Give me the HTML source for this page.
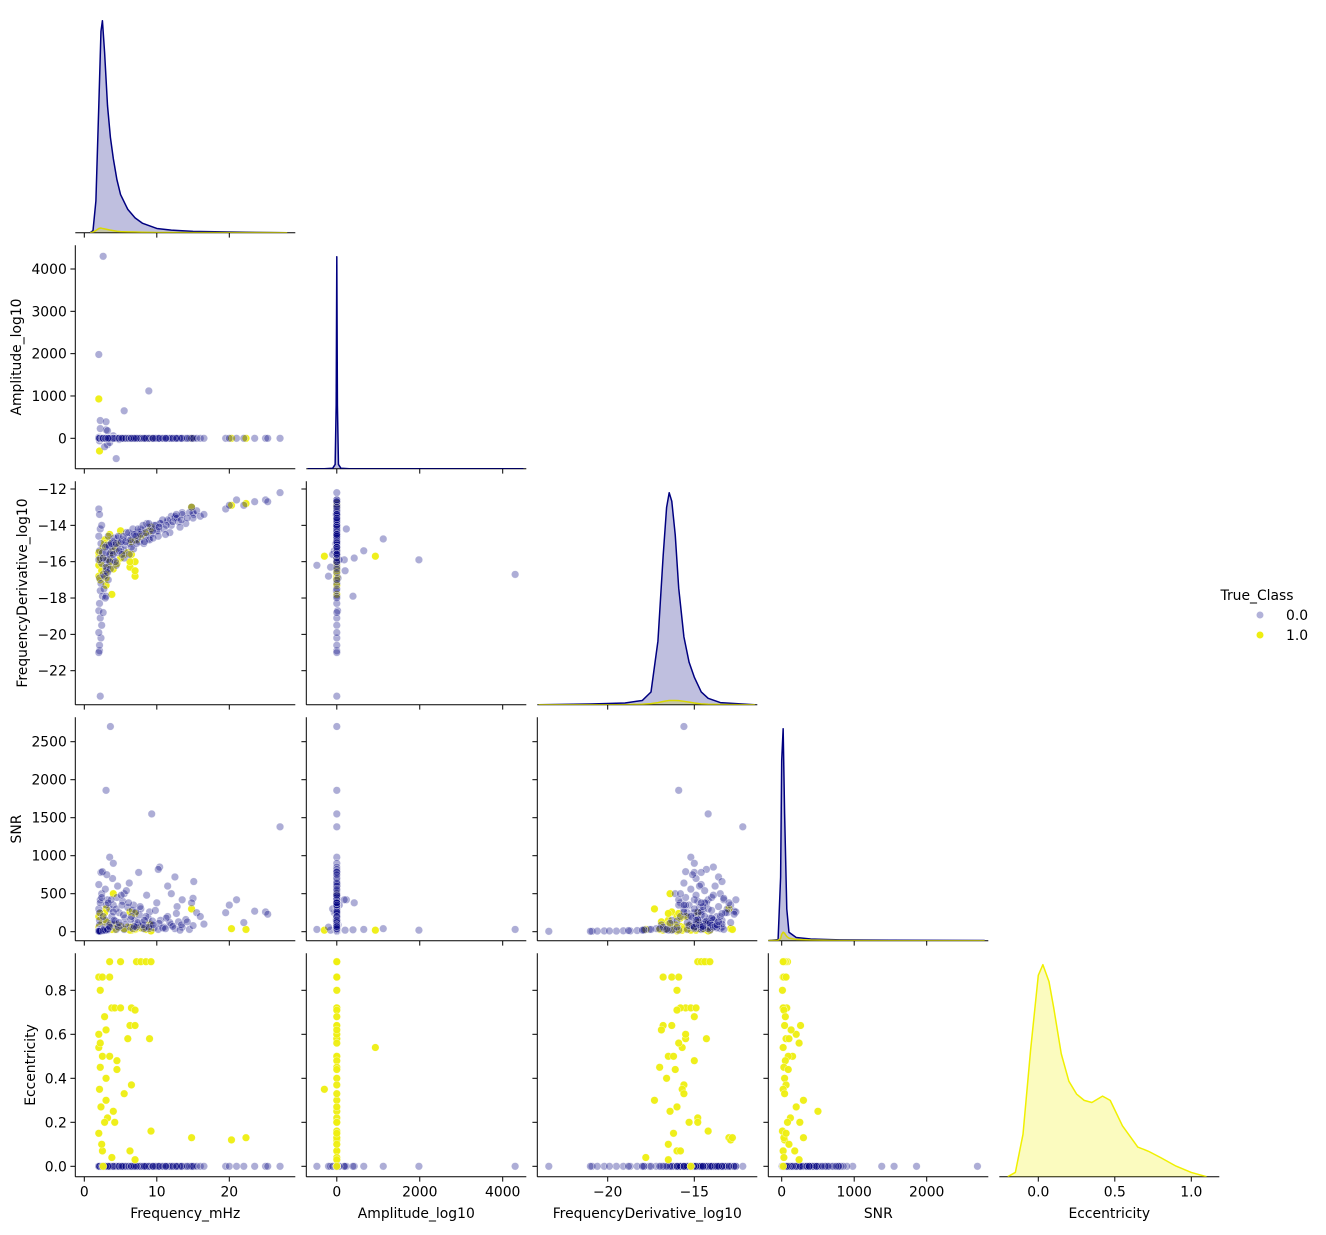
<!DOCTYPE html>
<html><head><meta charset="utf-8"><style>
html,body{margin:0;padding:0;background:#fff;}
svg text{font-family:"DejaVu Sans","Liberation Sans",sans-serif;font-size:13.9px;fill:#000;}
</style></head><body>
<svg id="chart" width="1326" height="1230" viewBox="0 0 1326 1230" xmlns="http://www.w3.org/2000/svg">
<g id="legend">
<text x="1257" y="600" text-anchor="middle">True_Class</text>
<circle cx="1260" cy="615" r="3.8" fill="#000080" fill-opacity="0.3" stroke="#fff" stroke-width="0.6"/>
<text x="1286" y="620">0.0</text>
<circle cx="1260" cy="635" r="3.8" fill="#eeee10" stroke="#fff" stroke-width="0.6"/>
<text x="1286" y="640">1.0</text>
</g>
</svg>
<script>
// ---------- class 0.0 records ----------
const freq0 = [2.0,2.1,2.2,2.0,2.3,2.1,2.2,2.4,2.0,2.1,2.3,2.2,2.5,2.1,2.0,2.2,2.4,2.6,2.3,2.1,2.0,2.2,2.0,2.1,
 3.6,3.0,9.3,27.0,3.5,4.0,10.4,10.2,7.5,2.5,12.5,15.1,11.5,12.0,13.5,15.0,19.5,20.0,21.0,22.0,23.5,25.0,25.3,4.4,5.5,3.0,8.9,3.2,3.0,
 2.8,3.0,3.2,3.5,3.8,4.0,4.2,4.5,4.8,5.0,5.3,5.6,6.0,6.3,6.6,7.0,7.3,7.6,8.0,8.4,8.8,9.2,9.6,10.0,10.5,11.0,11.5,12.0,12.5,13.0,13.5,14.0,14.5,15.0,15.5,16.0,
 3.3,3.6,4.3,2.7,2.9,2.6,5.5,6.8,8.2,9.0,10.2,11.8,13.2,7.8,4.6,3.9,5.8,12.8,6.2,2.4,8.6,16.5,14.8,3.1,
 2.6,3.0,3.4,3.7,4.1,4.4,4.7,5.1,5.4,5.7,6.1,6.4,6.7,7.1,7.4,7.7,8.1,8.5,8.9,9.4,9.8,10.3,10.8,11.3,12.2,12.7,13.4,14.2,3.2,3.5,4.0,4.8,5.2,6.5,7.2,8.3,9.5,11.2,2.9,3.3,6.9];
const amp0 = [0,-20,230,10,0,-60,420,0,1980,30,0,-10,0,0,20,0,0,4300,0,0,0,0,0,0,
 0,0,0,0,0,0,0,0,0,0,0,0,0,0,0,0,0,0,0,0,0,0,0,-480,650,390,1120,-150,200,
 -200,0,180,-100,0,60,0,0,-30,0,0,0,0,0,0,0,0,0,0,0,0,0,0,0,0,0,0,0,0,0,0,0,0,0,0,0,
 0,0,0,0,0,0,0,0,0,0,0,0,0,0,0,0,0,0,0,0,0,0,0,0,
 0,0,0,0,0,0,0,0,0,0,0,0,0,0,0,0,0,0,0,0,0,0,0,0,0,0,0,0,0,0,0,0,0,0,0,0,0,0,0,0,0];
const fdot0 = [-13.1,-13.4,-14.2,-14.6,-15.0,-15.4,-15.8,-16.1,-15.9,-16.9,-17.2,-17.6,-17.9,-18.3,-18.7,-19.1,-19.5,-16.7,-20.2,-20.9,-21.0,-23.4,-19.9,-20.6,
 -15.6,-15.9,-14.2,-12.2,-15.2,-15.0,-13.9,-14.3,-14.6,-15.5,-13.6,-13.4,-13.8,-13.5,-13.3,-13.3,-13.1,-12.9,-12.6,-12.9,-12.7,-12.6,-12.7,-16.2,-15.4,-17.9,-14.75,-16.3,-16.5,
 -16.8,-16.3,-15.9,-15.6,-15.4,-15.9,-15.2,-15.5,-15.0,-15.3,-14.8,-15.1,-14.7,-15.0,-14.5,-14.8,-14.4,-14.9,-14.3,-14.6,-14.1,-14.5,-14.0,-14.3,-13.9,-14.2,-13.7,-14.0,-13.5,-13.8,-13.4,-13.9,-13.3,-13.6,-13.2,-13.5,
 -17.0,-16.4,-16.0,-17.5,-18.0,-18.8,-15.8,-15.3,-15.0,-14.8,-14.6,-14.4,-14.1,-14.2,-14.7,-14.9,-14.4,-13.6,-15.6,-14.0,-13.9,-13.4,-13.0,-15.1,
 -15.8,-15.5,-15.1,-15.0,-14.7,-15.0,-14.6,-14.9,-14.6,-14.9,-14.4,-14.8,-14.2,-14.6,-14.2,-14.5,-14.0,-14.4,-13.9,-14.3,-14.0,-14.1,-13.7,-14.0,-13.8,-13.4,-13.7,-13.6,-16.6,-16.0,-15.6,-15.4,-15.6,-15.2,-15.0,-14.9,-14.7,-14.5,-15.2,-14.6,-14.5];
const snr0 = [300,150,420,620,780,250,380,500,20,90,40,30,20,15,10,12,8,30,10,6,5,5,10,8,
 2700,1860,1550,1380,980,900,850,820,780,790,720,660,600,500,420,440,250,350,420,120,270,260,230,30,30,25,40,20,20,
 60,150,420,300,200,350,100,450,250,80,400,180,320,60,280,150,90,220,120,60,180,100,50,380,150,60,200,90,40,130,60,160,30,80,250,200,
 40,110,140,30,20,15,500,350,40,260,30,120,20,300,600,700,540,330,640,450,480,100,380,750,
 200,350,80,420,150,300,60,480,220,100,380,160,40,260,120,330,90,200,60,140,280,110,50,180,70,240,90,130,30,60,260,120,350,200,60,150,90,40,560,380,70];
const ecc0 = [0,0,0,0,0,0,0,0,0,0,0,0,0,0,0,0,0,0,0,0,0,0,0,0,
 0,0,0,0,0,0,0,0,0,0,0,0,0,0,0,0,0,0,0,0,0,0,0,0,0,0,0,0,0,
 0,0,0,0,0,0,0,0,0,0,0,0,0,0,0,0,0,0,0,0,0,0,0,0,0,0,0,0,0,0,0,0,0,0,0,0,
 0,0,0,0,0,0,0,0,0,0,0,0,0,0,0,0,0,0,0,0,0,0,0,0,
 0,0,0,0,0,0,0,0,0,0,0,0,0,0,0,0,0,0,0,0,0,0,0,0,0,0,0,0,0,0,0,0,0,0,0,0,0,0,0,0,0];
// ---------- class 1.0 records ----------
const freq1 = [3.5,5.0,7.2,7.8,8.5,9.2,2.0,2.5,3.5,2.2, 3.8,4.2,5.0,6.5,7.0,6.3,7.0,6.0,9.0,2.0, 2.5,3.5,4.5,2.2,3.0,6.5,2.1,4.0,3.0,2.3, 3.2,2.8,4.2,9.2,14.8,20.3,22.3,6.3,2.5,2.0, 3.8,2.4,7.0,2.6,2.0,2.2,3.0,2.8,4.5,5.5];
const amp1 = [0,0,0,0,0,0,0,0,0,0, 0,0,0,0,0,0,0,0,0,930, 0,0,0,0,0,0,-300,0,0,0, 0,0,0,0,0,0,0,0,0,0, 0,0,0,0,0,0,0,0,0,0];
const fdot1 = [-14.5,-14.3,-14.8,-14.6,-14.4,-14.1,-16.8,-16.3,-15.9,-16.0, -15.5,-15.2,-15.8,-14.9,-16.0,-16.3,-16.8,-15.5,-14.3,-15.7, -16.5,-16.2,-15.0,-17.0,-16.6,-15.6,-15.7,-16.4,-17.3,-16.0, -14.8,-14.8,-15.3,-14.2,-13.0,-12.9,-12.8,-16.0,-15.8,-16.2, -17.8,-16.5,-16.5,-15.2,-15.5,-15.9,-16.9,-15.0,-16.1,-15.6];
const snr1 = [80,60,40,50,30,20,20,30,60,10, 40,30,70,20,30,260,40,60,100,20, 150,90,50,30,40,60,20,500,300,200, 120,250,80,10,300,40,30,20,180,60, 30,100,240,20,200,240,130,50,90,40];
const ecc1 = [0.93,0.93,0.93,0.93,0.93,0.93,0.86,0.86,0.86,0.80, 0.72,0.72,0.72,0.72,0.71,0.64,0.64,0.58,0.58,0.54, 0.50,0.50,0.48,0.45,0.40,0.37,0.35,0.25,0.30,0.27, 0.22,0.20,0.20,0.16,0.13,0.12,0.13,0.07,0.07,0.15, 0.04,0.10,0.03,0.0,0.60,0.56,0.62,0.68,0.44,0.33];
// ---------- diagonal KDE curves (relative density) ----------
const kdeFreqX = [0.8,1.2,1.6,2.0,2.3,2.5,2.8,3.2,3.6,4.0,4.5,5.0,6.0,7.0,8.0,10,12,15,20,25,28];
const kdeFreq0 = [0,0.01,0.15,0.6,0.95,1.0,0.85,0.6,0.45,0.35,0.25,0.18,0.11,0.07,0.045,0.02,0.012,0.006,0.003,0.001,0];
const kdeFreq1 = [0,0.003,0.01,0.02,0.022,0.02,0.018,0.015,0.012,0.01,0.007,0.005,0.004,0.003,0.002,0.001,0.001,0.0005,0.0005,0.0003,0];
const kdeAmpX = [-700,-300,-100,-40,-15,0,15,40,100,300,4500];
const kdeAmp0 = [0,0,0.002,0.02,0.3,1.0,0.3,0.02,0.002,0,0];
const kdeFdotX = [-24,-21,-19,-18,-17.5,-17.1,-16.8,-16.6,-16.45,-16.3,-16.1,-15.9,-15.6,-15.3,-15.0,-14.6,-14.2,-13.5,-12,-11.5];
const kdeFdot0 = [0,0.003,0.008,0.02,0.06,0.3,0.7,0.93,1.0,0.96,0.8,0.55,0.32,0.2,0.13,0.06,0.03,0.01,0.002,0];
const kdeFdot1 = [0,0,0,0.002,0.005,0.01,0.015,0.018,0.02,0.02,0.02,0.019,0.016,0.012,0.008,0.004,0.002,0.001,0,0];
const kdeSnrX = [-200,-50,-15,0,20,40,70,100,200,400,800,1500,2800];
const kdeSnr0 = [0,0.005,0.3,0.85,1.0,0.6,0.15,0.04,0.015,0.008,0.004,0.002,0.001];
const kdeSnr1 = [0,0.002,0.01,0.03,0.04,0.035,0.02,0.012,0.006,0.003,0.001,0,0];
const kdeEccX = [-0.2,-0.15,-0.1,-0.05,0,0.03,0.07,0.1,0.15,0.2,0.25,0.3,0.35,0.42,0.47,0.55,0.65,0.72,0.8,0.9,1.0,1.1];
const kdeEcc1 = [0,0.02,0.2,0.6,0.95,1.0,0.92,0.8,0.58,0.45,0.39,0.36,0.35,0.38,0.36,0.24,0.14,0.12,0.09,0.05,0.02,0];
// ---------- axes ----------
const varNames = ["Frequency_mHz","Amplitude_log10","FrequencyDerivative_log10","SNR","Eccentricity"];
const xTicks = [[0,10,20],[0,2000,4000],[-20,-15],[0,1000,2000],[0,0.5,1.0]];
const xTickLabels = [["0","10","20"],["0","2000","4000"],["\u221220","\u221215"],["0","1000","2000"],["0.0","0.5","1.0"]];
const yTicks = [[],[0,1000,2000,3000,4000],[-12,-14,-16,-18,-20,-22],[0,500,1000,1500,2000,2500],[0,0.2,0.4,0.6,0.8]];
const yTickLabels = [[],["0","1000","2000","3000","4000"],["\u221212","\u221214","\u221216","\u221218","\u221220","\u221222"],["0","500","1000","1500","2000","2500"],["0.0","0.2","0.4","0.6","0.8"]];

const NS = "http://www.w3.org/2000/svg";
const svg = document.getElementById("chart");
const colL = [75.3,306.3,537.3,768.3,999.3], PW = 220;
const rowT = [9.3,245.3,481.3,717.3,953.3], PH = 223.4;
function lin(d0,p0,d1,p1){ return v => p0 + (v-d0)*(p1-p0)/(d1-d0); }
const xs = [lin(0,84.3,20,229.3), lin(0,336.8,4000,502.7), lin(-20,607.7,-15,694.3), lin(0,781.7,2000,926.7), lin(0,1038.3,1,1191.3)];
const ys = [null, lin(0,438.3,4000,269), lin(-12,489,-22,670.7), lin(0,931.7,2500,741.7), lin(0,1166.3,0.8,990.3)];
const vars0 = [freq0,amp0,fdot0,snr0,ecc0];
const vars1 = [freq1,amp1,fdot1,snr1,ecc1];
const NAVY = "#000080", YEL = "#eeee10";

function mk(tag, attrs, parent){ const e = document.createElementNS(NS, tag); for (const k in attrs) e.setAttribute(k, attrs[k]); (parent||svg).appendChild(e); return e; }

const defs = mk("defs", {});
for (let r = 0; r < 5; r++) for (let c = 0; c <= r; c++) {
  const cp = mk("clipPath", {id: "cp"+r+c}, defs);
  mk("rect", {x: colL[c], y: rowT[r], width: PW, height: PH}, cp);
}

function kde(r, c, xv, dv, color, fillOp, name){
  const bottom = rowT[r] + PH;
  let pts = xv.map((v,i) => xs[c](v).toFixed(2) + "," + (bottom - dv[i]*212).toFixed(2));
  const poly = mk("polygon", {points: xs[c](xv[0]).toFixed(2)+","+bottom+" "+pts.join(" ")+" "+xs[c](xv[xv.length-1]).toFixed(2)+","+bottom, fill: color, "fill-opacity": fillOp, stroke: "none", "clip-path": "url(#cp"+r+c+")"});
  
  
  const line = mk("polyline", {points: pts.join(" "), fill: "none", stroke: color, "stroke-width": 1.5, "stroke-linejoin": "round", "clip-path": "url(#cp"+r+c+")"});
  
  
}

function drawClass(pg, r, c, X, Y, color, op, name){
  for (let i = 0; i < Math.min(X.length, Y.length); i++) {
    const p = mk("circle", {cx: xs[c](X[i]).toFixed(2), cy: ys[r](Y[i]).toFixed(2), r: 3.8, fill: color, "fill-opacity": op, stroke: "#fff", "stroke-width": 0.5, "stroke-opacity": 0.7}, pg);
    
    
  }
}

for (let r = 0; r < 5; r++) for (let c = 0; c <= r; c++) {
  const g = mk("g", {});
  
  
  const x0 = colL[c], y0 = rowT[r], bottom = y0 + PH;
  if (r === c) {
    if (r === 0){ kde(0,0,kdeFreqX,kdeFreq0,NAVY,0.25,'kde-frequency-class0'); kde(0,0,kdeFreqX,kdeFreq1,"#d8d800",0.25,'kde-frequency-class1'); }
    if (r === 1){ kde(1,1,kdeAmpX,kdeAmp0,NAVY,0.25,'kde-amplitude-class0'); }
    if (r === 2){ kde(2,2,kdeFdotX,kdeFdot0,NAVY,0.25,'kde-fdot-class0'); kde(2,2,kdeFdotX,kdeFdot1,"#d8d800",0.25,'kde-fdot-class1'); }
    if (r === 3){ kde(3,3,kdeSnrX,kdeSnr0,NAVY,0.25,'kde-snr-class0'); kde(3,3,kdeSnrX,kdeSnr1,"#d8d800",0.25,'kde-snr-class1'); }
    if (r === 4){ kde(4,4,kdeEccX,kdeEcc1,"#f0f000",0.25,'kde-eccentricity-class1'); }
  } else {
    const pg = mk("g", {"clip-path": "url(#cp"+r+c+")"}, g);
    if (r === 4) {
      drawClass(pg, r, c, vars0[c], vars0[r], NAVY, 0.32, 'point-class0');
      drawClass(pg, r, c, vars1[c], vars1[r], YEL, 0.95, 'point-class1');
    } else {
      drawClass(pg, r, c, vars1[c], vars1[r], YEL, 0.95, 'point-class1');
      drawClass(pg, r, c, vars0[c], vars0[r], NAVY, 0.32, 'point-class0');
    }
    const ls = mk("line", {x1: x0, y1: y0, x2: x0, y2: bottom, stroke: "#000", "stroke-width": 1}, g);
    
    
    yTicks[r].forEach((t,i) => {
      const yy = ys[r](t);
      mk("line", {x1: x0-4.9, y1: yy, x2: x0, y2: yy, stroke: "#000", "stroke-width": 1}, g);
      if (c === 0) {
        const tl = mk("text", {x: x0-8.5, y: yy+5, "text-anchor": "end"}, g);
        tl.textContent = yTickLabels[r][i];
        
        
      }
    });
  }
  const bs = mk("line", {x1: x0, y1: bottom, x2: x0+PW, y2: bottom, stroke: "#000", "stroke-width": 1}, g);
  
  
  xTicks[c].forEach((t,i) => {
    const xx = xs[c](t);
    mk("line", {x1: xx, y1: bottom, x2: xx, y2: bottom+4.9, stroke: "#000", "stroke-width": 1}, g);
    if (r === 4) {
      const tl = mk("text", {x: xx, y: bottom+20, "text-anchor": "middle"}, g);
      tl.textContent = xTickLabels[c][i];
      
      
    }
  });
}
for (let c = 0; c < 5; c++) {
  const t = mk("text", {x: colL[c]+PW/2, y: 1218, "text-anchor": "middle"});
  t.textContent = varNames[c];
  
  
}
const yTitleX = [0, 21, 27, 21, 35];
for (let r = 1; r < 5; r++) {
  const cy = rowT[r] + PH/2;
  const t = mk("text", {x: yTitleX[r], y: cy, "text-anchor": "middle", transform: "rotate(-90 "+yTitleX[r]+" "+cy+")"});
  t.textContent = varNames[r];
  
  
}
svg.appendChild(document.getElementById("legend"));
</script>
</body></html>
